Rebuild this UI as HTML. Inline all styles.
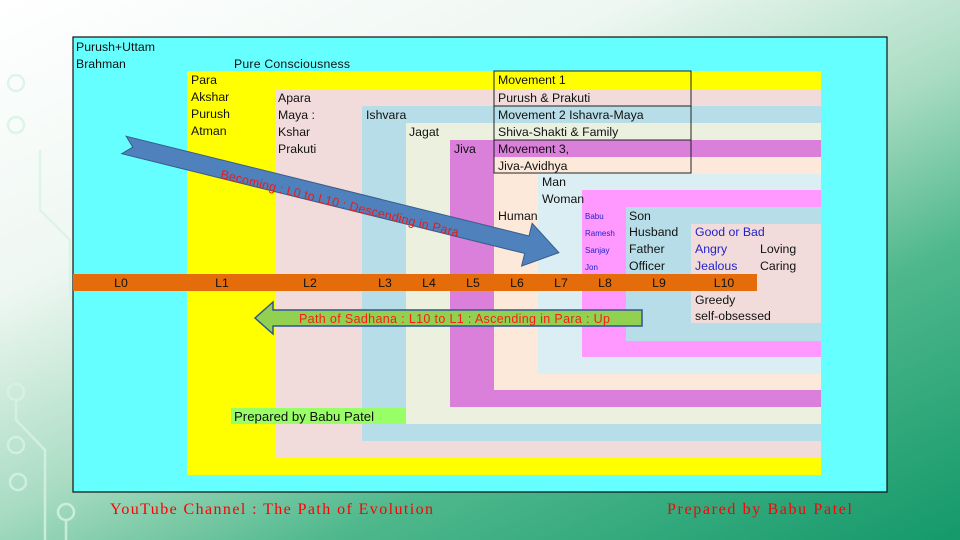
<!DOCTYPE html>
<html><head><meta charset="utf-8"><style>
html,body{margin:0;padding:0;width:960px;height:540px;overflow:hidden}
body{background:linear-gradient(155deg,#ffffff 0%,#eef7f2 30%,#a9dcc2 52%,#4fb88c 70%,#14996b 100%);font-family:"Liberation Sans",sans-serif}
</style></head><body>
<svg width="960" height="540" xmlns="http://www.w3.org/2000/svg" style="position:absolute;left:0;top:0">
<g stroke="#d8f3e4" stroke-width="2.5" fill="none" opacity="0.8">
<circle cx="16" cy="83" r="8"/><circle cx="16" cy="125" r="8"/><circle cx="16" cy="392" r="8"/><circle cx="16" cy="445" r="8"/><circle cx="18" cy="482" r="8"/><circle cx="66" cy="512" r="8"/>
<path d="M16 400 V420 L45 450 V540"/><path d="M66 520 V540"/><path d="M40 150 V210 L70 240 V300"/>
</g>
<rect x="73" y="37" width="814" height="455" fill="#66ffff" stroke="#111" stroke-width="1.2"/>
<rect x="187" y="71" width="634" height="404" fill="#ffff00"/>
<rect x="275" y="89" width="546" height="369" fill="#f2dcdb"/>
<rect x="362" y="106" width="459" height="335" fill="#b7dee8"/>
<rect x="406" y="123" width="415" height="301" fill="#ebf1de"/>
<rect x="450" y="140" width="371" height="267" fill="#da7fda"/>
<rect x="494" y="157" width="327" height="233" fill="#fde9d9"/>
<rect x="538" y="174" width="283" height="200" fill="#daeef3"/>
<rect x="582" y="190" width="239" height="167" fill="#ff99ff"/>
<rect x="626" y="207" width="195" height="134" fill="#b7dee8"/>
<rect x="691" y="224" width="130" height="99" fill="#f2dcdb"/>
<rect x="494" y="71" width="197" height="102" fill="none" stroke="#222" stroke-width="1"/>
<line x1="494" y1="106" x2="691" y2="106" stroke="#222"/>
<line x1="494" y1="140" x2="691" y2="140" stroke="#222"/>
<rect x="73" y="274" width="684" height="17" fill="#e46c0a"/>
<rect x="231" y="408" width="175" height="16" fill="#99ff66"/>
<g font-family="Liberation Sans, sans-serif" font-size="12.3" fill="#111">
<text x="76" y="51">Purush+Uttam</text>
<text x="76" y="68">Brahman</text>
<text x="234" y="68" textLength="116">Pure Consciousness</text>
<text x="191" y="84">Para</text>
<text x="191" y="101">Akshar</text>
<text x="191" y="118">Purush</text>
<text x="191" y="135">Atman</text>
<text x="278" y="102">Apara</text>
<text x="278" y="119">Maya :</text>
<text x="278" y="136">Kshar</text>
<text x="278" y="153">Prakuti</text>
<text x="366" y="119">Ishvara</text>
<text x="409" y="136">Jagat</text>
<text x="454" y="153">Jiva</text>
<text x="498" y="84">Movement 1</text>
<text x="498" y="102">Purush &amp; Prakuti</text>
<text x="498" y="119">Movement  2  Ishavra-Maya</text>
<text x="498" y="136">Shiva-Shakti &amp; Family</text>
<text x="498" y="153">Movement 3,</text>
<text x="498" y="170">Jiva-Avidhya</text>
<text x="542" y="186">Man</text>
<text x="542" y="203">Woman</text>
<text x="498" y="220">Human</text>
<text x="629" y="220">Son</text>
<text x="629" y="236">Husband</text>
<text x="629" y="253">Father</text>
<text x="629" y="270">Officer</text>
<text x="760" y="253">Loving</text>
<text x="760" y="270">Caring</text>
<text x="695" y="304">Greedy</text>
<text x="695" y="320">self-obsessed</text>
<text x="234" y="421" font-size="13.2">Prepared by Babu Patel</text>
<g fill="#2222cc"><text x="695" y="236">Good or Bad</text><text x="695" y="253">Angry</text><text x="695" y="270">Jealous</text></g>
<g fill="#2222cc" font-size="8"><text x="585" y="219">Babu</text><text x="585" y="236">Ramesh</text><text x="585" y="253">Sanjay</text><text x="585" y="270">Jon</text></g>
<g text-anchor="middle"><text x="121" y="287">L0</text><text x="222" y="287">L1</text><text x="310" y="287">L2</text><text x="385" y="287">L3</text><text x="429" y="287">L4</text><text x="473" y="287">L5</text><text x="517" y="287">L6</text><text x="561" y="287">L7</text><text x="605" y="287">L8</text><text x="659" y="287">L9</text><text x="724" y="287">L10</text></g>
</g>
<g transform="translate(124,145) rotate(13.9)">
<polygon points="0,-9 415,-9 415,-22 448,0 415,22 415,9 0,9 9,0" fill="#4f81bd" stroke="#385d8a" stroke-width="1"/>
<text x="101" y="9" font-family="Liberation Sans, sans-serif" font-size="12.5" fill="#e81c1c" textLength="245">Becoming : L0 to L10 : Descending  in Para</text>
</g>
<polygon points="255,318 273,302 273,310 642,310 642,326 273,326 273,334" fill="#92d050" stroke="#2f5597" stroke-width="1.5"/>
<text x="299" y="323" font-family="Liberation Sans, sans-serif" font-size="12.5" fill="#ff1a1a" textLength="311">Path of Sadhana : L10 to L1 : Ascending  in Para : Up</text>
<g font-family="Liberation Serif, serif" font-size="16" fill="#ff0000">
<text x="110" y="514" textLength="323">YouTube Channel : The Path of Evolution</text>
<text x="667" y="514" textLength="185">Prepared by Babu Patel</text>
</g>
</svg>
</body></html>
